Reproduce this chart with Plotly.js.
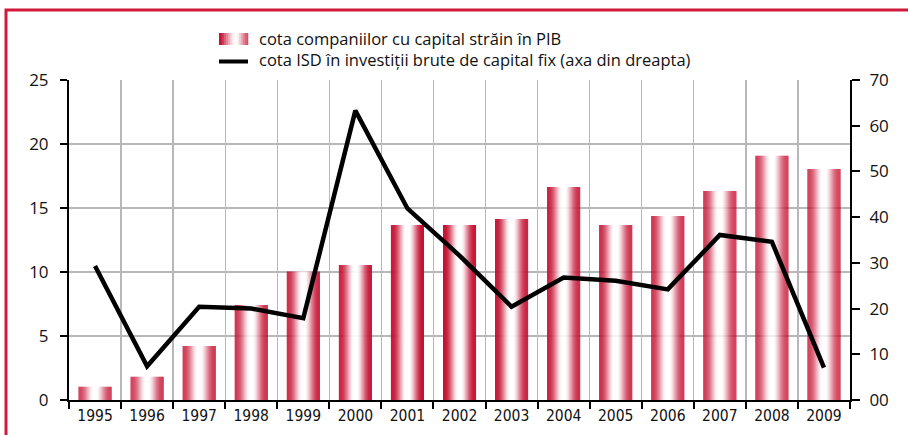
<!DOCTYPE html>
<html><head><meta charset="utf-8">
<script src="https://cdn.plot.ly/plotly-3.0.1.min.js"></script>
<style>html,body{margin:0;padding:0;background:#fff}#chart{width:908px;height:435px}</style>
</head><body><div id="chart"></div>
<script>
// ---- data ----
const years = ['1995','1996','1997','1998','1999','2000','2001','2002','2003','2004','2005','2006','2007','2008','2009'];
const foreignCompaniesShareGDP = [1.04, 1.82, 4.22, 7.42, 10.03, 10.55, 13.67, 13.67, 14.14, 16.64, 13.67, 14.38, 16.33, 19.09, 18.05];
const fdiShareGFCF = [29.3, 7.4, 20.4, 20.0, 17.9, 63.3, 41.9, 31.6, 20.4, 26.8, 26.1, 24.2, 36.1, 34.6, 7.1];
const leftTickVals = [0, 5, 10, 15, 20, 25];
const rightTickVals = [0, 10, 20, 30, 40, 50, 60, 70];
const rightTickText = ['00', '10', '20', '30', '40', '50', '60', '70'];
const legendLabels = ['cota companiilor cu capital străin în PIB', 'cota ISD în investiții brute de capital fix (axa din dreapta)'];

// ---- style helpers ----
const BASE = [197, 17, 50];
function smooth(u){ u = Math.max(0, Math.min(1, u)); return u*u*(3-2*u); }
function whiteFrac(t){
  if (t < 0.46) return Math.pow(smooth(t/0.46), 1.4);
  if (t < 0.54) return 1;
  return Math.pow(smooth((1-t)/0.46), 1.4);
}
function mixColor(f){
  const c = BASE.map(v => Math.round(v + (255 - v)*f));
  return 'rgb(' + c.join(',') + ')';
}

const N = 33, W = 0.635;
const traces = [];
for (let i = 0; i < N; i++) {
  const t = (i + 0.5) / N;
  traces.push({
    type: 'bar', x: years, y: foreignCompaniesShareGDP,
    width: W / N + 0.001, offset: -W/2 + i * W / N,
    marker: {color: mixColor(whiteFrac(t)), line: {width: 0}},
    showlegend: false, hoverinfo: 'skip'
  });
}
traces.push({
  type: 'scatter', mode: 'lines', x: years, y: fdiShareGFCF, yaxis: 'y2',
  line: {color: '#000', width: 4.5}, showlegend: false
});

// plot area: x 69..850, y 80..400
const PL = 69, PR = 850, PT = 80, PB = 400;
const px = v => (v - PL) / (PR - PL);
const py = v => (PB - v) / (PB - PT);

const shapes = [];
// outer red frame (left & top visible)
shapes.push({type: 'rect', xref: 'paper', yref: 'paper', x0: px(6), x1: px(1000), y0: py(500), y1: py(10),
  line: {color: '#d01a3c', width: 3}, fillcolor: 'rgba(0,0,0,0)'});
// legend bar icon (gradient strips)
const LX0 = 219, LX1 = 248, LN = 16;
for (let i = 0; i < LN; i++) {
  const a = LX0 + (LX1 - LX0) * i / LN, b = LX0 + (LX1 - LX0) * (i + 1) / LN + 0.3;
  const t = (i + 0.5) / LN;
  const f = t < 0.58 ? smooth(t/0.58) : 0.25 + 0.75*smooth((1-t)/0.42);
  shapes.push({type: 'rect', xref: 'paper', yref: 'paper', x0: px(a), x1: px(b), y0: py(45), y1: py(33),
    line: {width: 0}, fillcolor: mixColor(f)});
}
// legend line icon
shapes.push({type: 'line', xref: 'paper', yref: 'paper', x0: px(219), x1: px(248), y0: py(61.5), y1: py(61.5),
  line: {color: '#000', width: 4}});

const legendFont = {family: 'Open Sans, sans-serif', size: 16.5, color: '#111'};
const annotations = [
  {xref: 'paper', yref: 'paper', x: px(257), y: py(48.5), xanchor: 'left', yanchor: 'middle', align: 'left',
   showarrow: false, text: legendLabels.join('<br>'), font: legendFont}
];

const tickFontY = {family: 'Open Sans, sans-serif', size: 17, color: '#111'};
const layout = {
  width: 908, height: 435,
  margin: {l: PL, r: 908 - PR, t: PT, b: 435 - PB},
  paper_bgcolor: '#fff', plot_bgcolor: '#fff',
  barmode: 'overlay',
  showlegend: false,
  xaxis: {
    type: 'category', range: [-0.5, 14.5], tickson: 'boundaries',
    ticks: 'outside', ticklen: 7, tickwidth: 2, tickcolor: '#000',
    showline: true, linecolor: '#000', linewidth: 2,
    showgrid: true, gridcolor: '#b8b8bc', gridwidth: 1.3,
    tickfont: {family: 'Liberation Sans Narrow, DejaVu Sans Condensed, sans-serif', size: 15.5, color: '#111'},
    fixedrange: true
  },
  yaxis: {
    range: [0, 25], tickmode: 'array', tickvals: leftTickVals,
    ticks: 'outside', ticklen: 7, tickwidth: 2, tickcolor: '#000',
    showline: true, linecolor: '#000', linewidth: 2,
    showgrid: true, gridcolor: '#b8b8bc', gridwidth: 1.3, zeroline: false,
    tickfont: tickFontY, ticklabelstandoff: 8, fixedrange: true
  },
  yaxis2: {
    overlaying: 'y', side: 'right', range: [0, 70],
    tickmode: 'array', tickvals: rightTickVals, ticktext: rightTickText,
    ticks: 'outside', ticklen: 8, tickwidth: 2, tickcolor: '#000',
    showline: true, linecolor: '#000', linewidth: 2,
    showgrid: false, zeroline: false,
    tickfont: tickFontY, ticklabelstandoff: 6, fixedrange: true
  },
  shapes: shapes,
  annotations: annotations
};
Plotly.newPlot('chart', traces, layout, {displayModeBar: false, staticPlot: true});
</script>
</body></html>
